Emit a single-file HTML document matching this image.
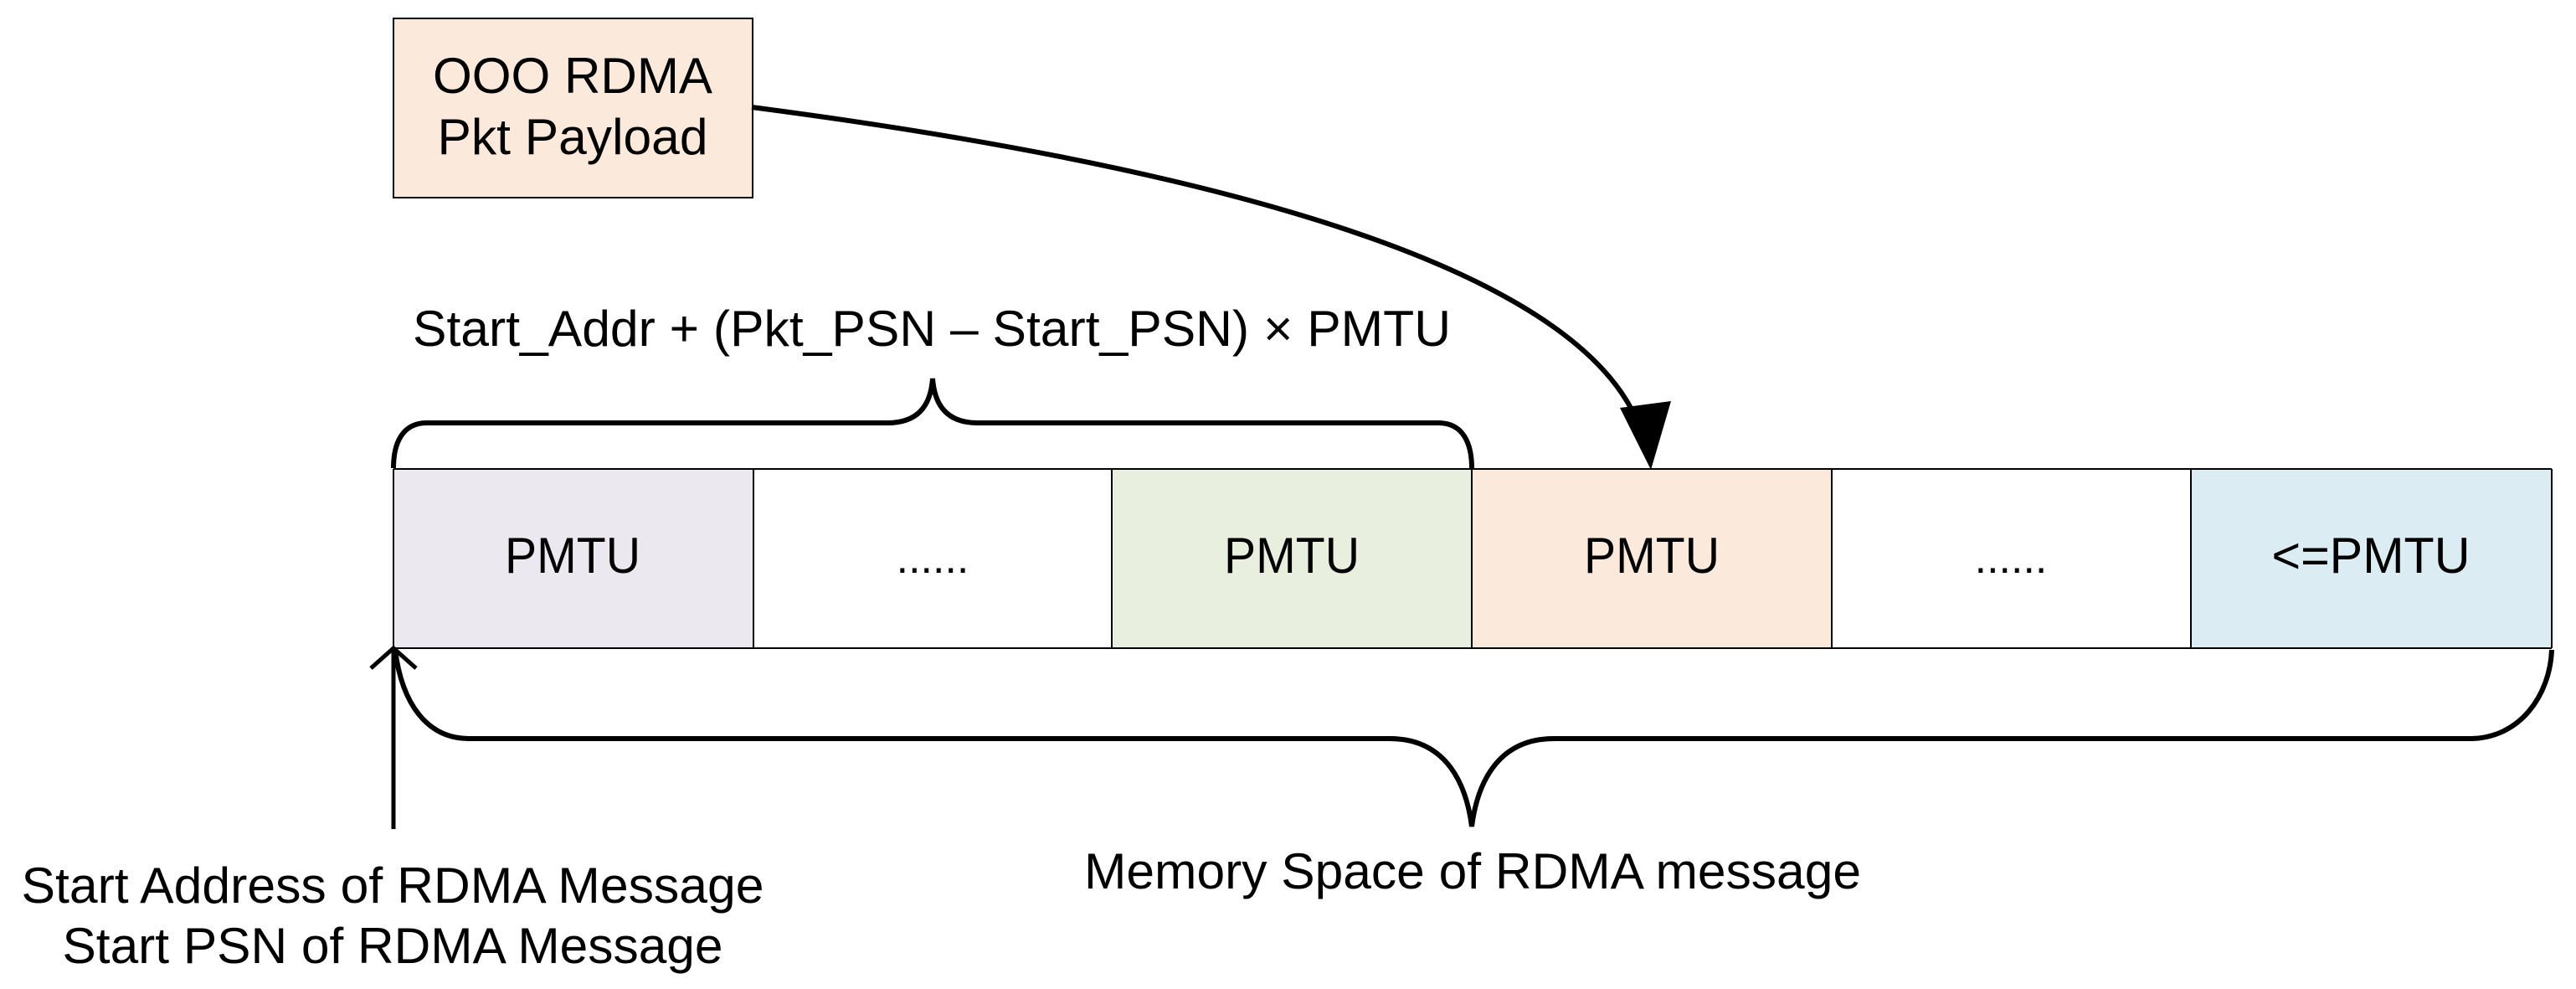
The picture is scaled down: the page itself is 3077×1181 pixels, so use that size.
<!DOCTYPE html>
<html><head><meta charset="utf-8"><style>html,body{margin:0;padding:0;background:#fff}svg{display:block}</style></head>
<body>
<svg width="3077" height="1181" viewBox="0 0 3077 1181" xmlns="http://www.w3.org/2000/svg" font-family="'Liberation Sans', Arial, sans-serif" fill="#000">
<rect x="470" y="22" width="429" height="214" fill="#fbe9dc" stroke="#000" stroke-width="2"/>
<text x="684" y="111" font-size="60" text-anchor="middle" textLength="334" lengthAdjust="spacingAndGlyphs">OOO RDMA</text>
<text x="684" y="184" font-size="60" text-anchor="middle" textLength="323" lengthAdjust="spacingAndGlyphs">Pkt Payload</text>

<rect x="470" y="560" width="430" height="214" fill="#ebe8f0"/>
<rect x="1328" y="560" width="430" height="214" fill="#e8efdf"/>
<rect x="1758" y="560" width="430" height="214" fill="#fbe9dc"/>
<rect x="2617" y="560" width="431" height="214" fill="#dbedf2"/>
<g stroke="#000" stroke-width="2" fill="none">
<line x1="470" y1="560" x2="3048" y2="560"/>
<line x1="470" y1="774" x2="3048" y2="774"/>
<line x1="470" y1="560" x2="470" y2="774"/>
<line x1="900" y1="560" x2="900" y2="774"/>
<line x1="1328" y1="560" x2="1328" y2="774"/>
<line x1="1758" y1="560" x2="1758" y2="774"/>
<line x1="2188" y1="560" x2="2188" y2="774"/>
<line x1="2617" y1="560" x2="2617" y2="774"/>
<line x1="3048" y1="560" x2="3048" y2="774"/>
</g>
<g font-size="60" text-anchor="middle">
<text x="684" y="684" textLength="162" lengthAdjust="spacingAndGlyphs">PMTU</text>
<text x="1114" y="684" font-size="52">......</text>
<text x="1543" y="684" textLength="162" lengthAdjust="spacingAndGlyphs">PMTU</text>
<text x="1973" y="684" textLength="162" lengthAdjust="spacingAndGlyphs">PMTU</text>
<text x="2402" y="684" font-size="52">......</text>
<text x="2832" y="684" textLength="237" lengthAdjust="spacingAndGlyphs">&lt;=PMTU</text>
</g>

<text x="1113" y="413" font-size="60" text-anchor="middle" textLength="1240" lengthAdjust="spacingAndGlyphs">Start_Addr + (Pkt_PSN – Start_PSN) × PMTU</text>

<g stroke="#000" stroke-width="6" fill="none">
<path d="M470,559 C470,530 480,505 510,505 L1060,505 C1100,505 1112,480 1114,452 C1116,480 1128,505 1168,505 L1718,505 C1748,505 1758,530 1758,559"/>
<path d="M472,776 C480,840 510,882 560,882 L1660,882 C1730,882 1752,940 1758,987 C1764,940 1786,882 1856,882 L2950,882 C3010,882 3046,830 3048,776"/>
<path d="M898,128 C1450,200 1900,320 1962,520"/>
</g>
<polygon points="1935,487 1996,479 1972,561" fill="#000"/>
<g stroke="#000" stroke-width="5" fill="none">
<line x1="470" y1="990" x2="470" y2="778"/>
<polyline points="443,798 470,774 497,798"/>
</g>

<text x="469" y="1078" font-size="60" text-anchor="middle" textLength="887" lengthAdjust="spacingAndGlyphs">Start Address of RDMA Message</text>
<text x="469" y="1150" font-size="60" text-anchor="middle" textLength="789" lengthAdjust="spacingAndGlyphs">Start PSN of RDMA Message</text>
<text x="1759" y="1061" font-size="60" text-anchor="middle" textLength="928" lengthAdjust="spacingAndGlyphs">Memory Space of RDMA message</text>
</svg>
</body></html>
